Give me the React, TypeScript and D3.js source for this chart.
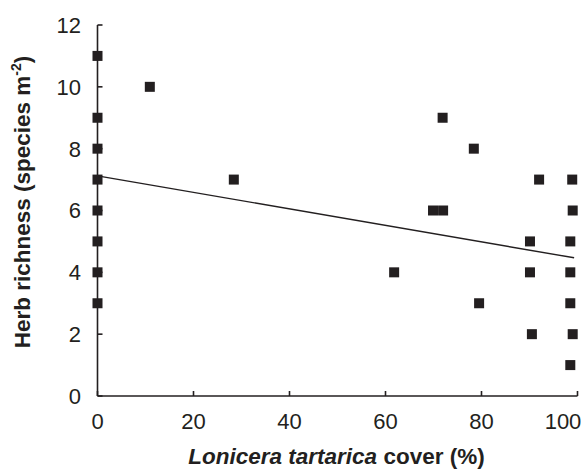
import React from "react";
import * as d3 from "d3";

// Lonicera tartarica cover (%) and herb richness (species m-2)
const coverValues = [0, 0, 0, 0, 0, 0, 0, 0, 10.9, 28.4, 61.8, 69.9, 72.0, 71.9, 78.4, 79.5, 90.1, 90.1, 90.5, 92.0, 98.9, 99.0, 98.5, 98.5, 98.5, 99.0, 98.5];
const richnessValues = [11, 9, 8, 7, 6, 5, 4, 3, 10, 7, 4, 6, 6, 9, 8, 3, 5, 4, 2, 7, 7, 6, 5, 4, 3, 2, 1];

// fitted trend line endpoints
const trendX = [0, 99.3];
const trendY = [7.12, 4.47];

const xTicks = [0, 20, 40, 60, 80, 100];
const yTicks = [0, 2, 4, 6, 8, 10, 12];

const width = 588;
const height = 470;
const ink = "#231f20";
const font = "'Liberation Sans', Arial, sans-serif";

const App = () => {
  const x = d3.scaleLinear().domain([0, 100]).range([97.5, 577.5]);
  const y = d3.scaleLinear().domain([0, 12]).range([396, 25]);
  const y0 = y(0);
  const line = d3
    .line<number>()
    .x((d) => x(trendX[d]))
    .y((d) => y(trendY[d]));
  const sq = 10;

  return (
    <svg
      width={width}
      height={height}
      style={{ position: "absolute", left: 0, top: 0, background: "#fff" }}
      fontFamily={font}
    >
      {/* axes */}
      <g stroke={ink} strokeWidth={1.6} fill="none">
        <line x1={x(0)} x2={x(0)} y1={y(12)} y2={y0} />
        <line x1={x(0)} x2={x(100)} y1={y0} y2={y0} />
        {yTicks.map((t) => (
          <line key={"yt" + t} x1={x(0)} x2={x(0) + 5} y1={y(t)} y2={y(t)} />
        ))}
        {xTicks.map((t) => (
          <line key={"xt" + t} x1={x(t)} x2={x(t)} y1={y0} y2={y0 - 5} />
        ))}
      </g>

      {/* tick labels */}
      {yTicks.map((t) => (
        <text key={"yl" + t} x={81} y={y(t)} dy="0.36em" textAnchor="end" fontSize={22} fill={ink}>
          {t}
        </text>
      ))}
      {xTicks.map((t) => (
        <text
          key={"xl" + t}
          x={Math.min(x(t), 563)}
          y={429}
          textAnchor="middle"
          fontSize={22}
          fill={ink}
        >
          {t}
        </text>
      ))}

      {/* trend line */}
      <path d={line([0, 1]) || ""} stroke={ink} strokeWidth={1.4} fill="none" />

      {/* points */}
      {coverValues.map((c, i) => (
        <rect
          key={i}
          x={x(c) - sq / 2}
          y={y(richnessValues[i]) - sq / 2}
          width={sq}
          height={sq}
          fill={ink}
        />
      ))}

      {/* axis titles */}
      <text x={336.5} y={464} textAnchor="middle" fontSize={22.5} fontWeight="bold" fill={ink}>
        <tspan fontStyle="italic">Lonicera tartarica</tspan> cover (%)
      </text>
      <text
        transform={`translate(30, 202) rotate(-90)`}
        textAnchor="middle"
        fontSize={22.5}
        fontWeight="bold"
        fill={ink}
      >
        Herb richness (species m
        <tspan fontSize={14} dy={-9}>-2</tspan>
        <tspan dy={9}>)</tspan>
      </text>
    </svg>
  );
};

export default App;
